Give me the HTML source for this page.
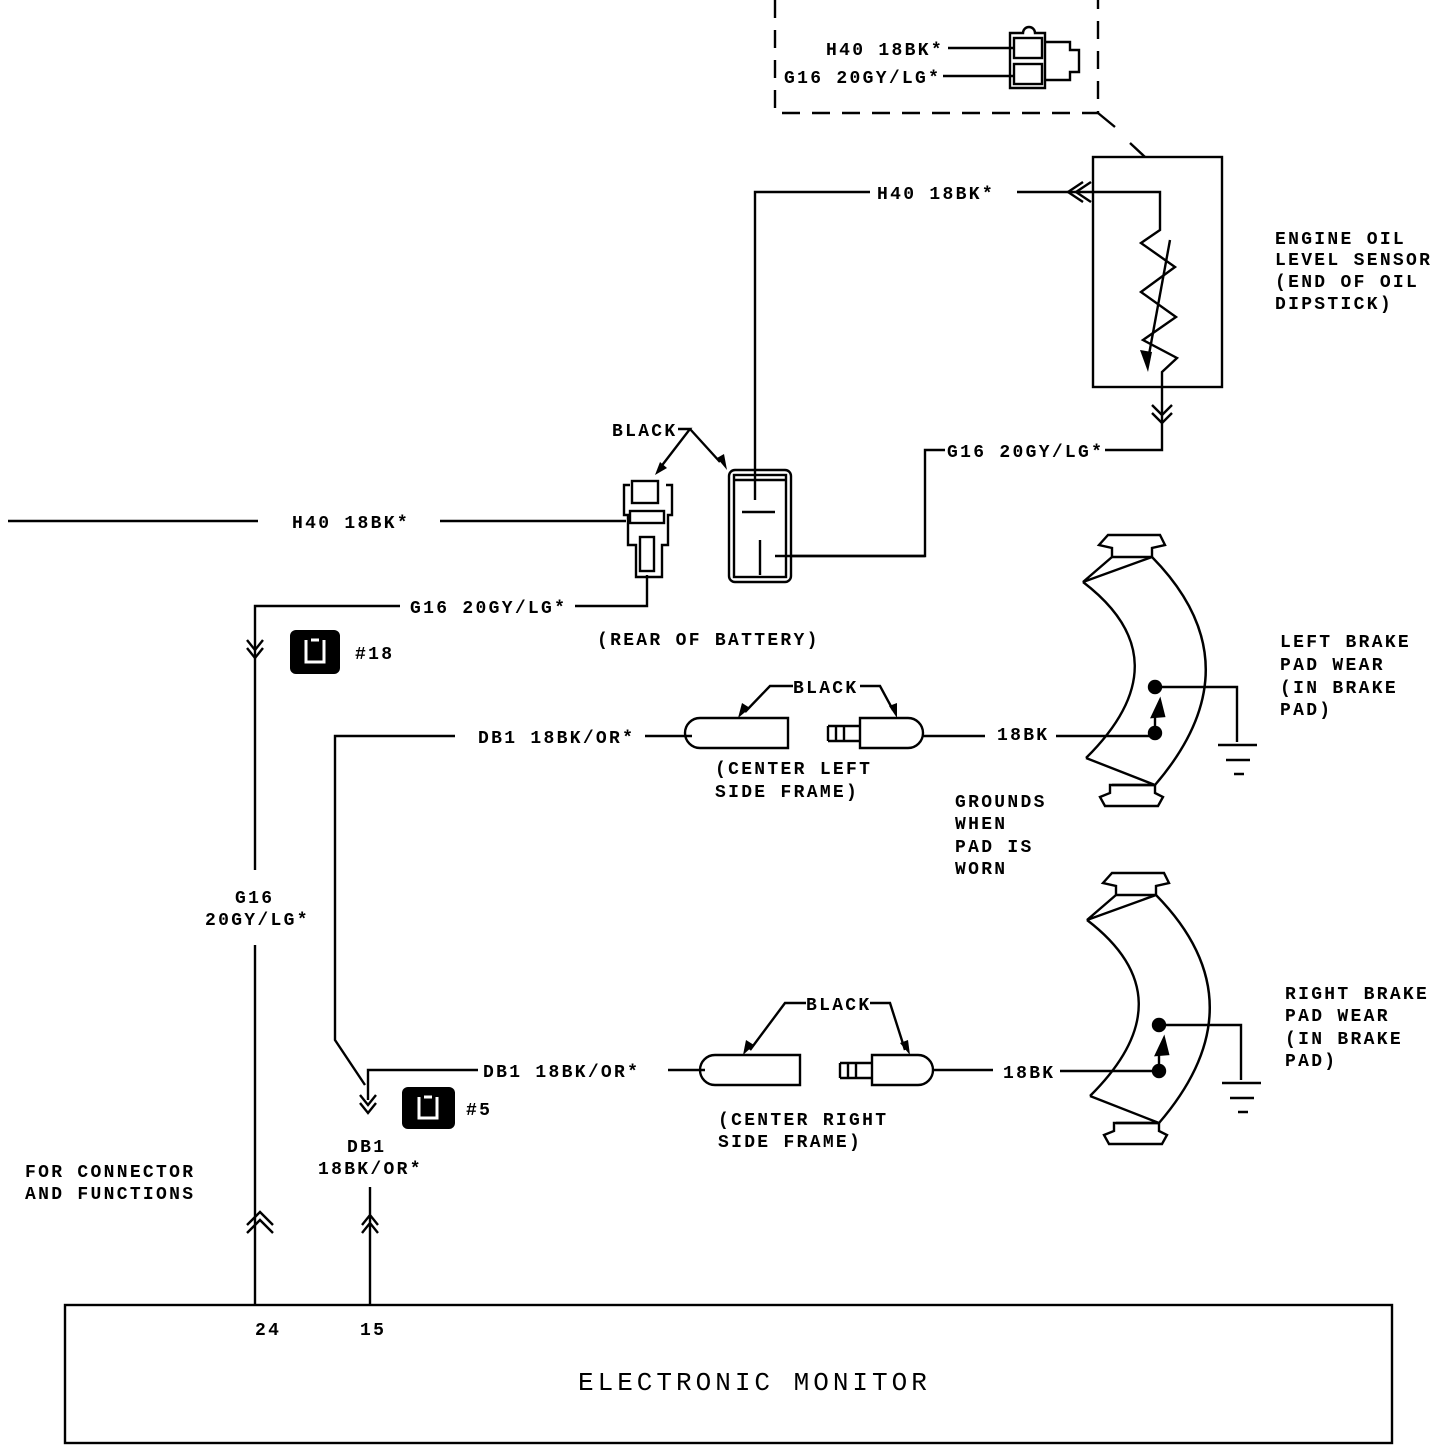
<!DOCTYPE html>
<html><head><style>
body{margin:0;background:#fff}
svg text{font-family:"Liberation Mono",monospace;font-size:18px;font-weight:bold;letter-spacing:2.3px;fill:#000}
</style></head><body>
<svg width="1440" height="1446" viewBox="0 0 1440 1446" xmlns="http://www.w3.org/2000/svg">
<g fill="none" stroke="#000" stroke-width="2.4">
<path d="M775 0 V113 H1098 V0" stroke-dasharray="18,12"/>
<path d="M1098 113 L1115 127 M1130 143 L1145 157"/>
<path d="M1010 33 h13 a6 6 0 0 1 12 0 h10 v55 h-35 z"/>
<rect x="1014" y="38" width="28" height="20"/><rect x="1014" y="64" width="28" height="20"/>
<path d="M1045 42 h25 v8 h9 v22 h-9 v8 h-25"/>
<path d="M948 48 H1015 M943 76 H1015"/>
<rect x="1093" y="157" width="129" height="230"/>
<path d="M755 500 V192 H870 M1017 192 H1160 V230 L1141 243 L1175 267 L1141 292 L1176 317 L1143 340 L1177 358 L1162 372 V450 H1105 M945 450 H925 V556 H775"/>
<path d="M1083 182 L1068 192 L1083 202 M1091 182 L1076 192 L1091 202"/>
<path d="M1170 240 L1148 360"/>
<path d="M1152 405 L1162 415 L1172 405 M1152 413 L1162 423 L1172 413"/>
<path d="M630 485 h-6 v30 h4 v30 h8 v32 h26 v-32 h6 v-30 h4 v-30 h-6"/>
<rect x="632" y="481" width="26" height="22"/>
<rect x="630" y="511" width="34" height="12"/>
<rect x="640" y="537" width="14" height="34"/>
<rect x="729" y="470" width="62" height="112" rx="6"/>
<rect x="734" y="475" width="52" height="102"/>
<path d="M734 480 H786 M742 512 H775 M760 540 V575"/>
<path d="M8 521 H258 M440 521 H626 M790 556 H925"/>
<path d="M647 575 V606 H575 M400 606 H255 V870 M255 945 V1305"/>
<path d="M247 640 L255 650 L263 640 M247 648 L255 658 L263 648"/>
<path d="M247 1225 L260 1212 L273 1225 M247 1233 L260 1220 L273 1233"/>
<path d="M678 429 H690 L660 468 M690 429 L720 462"/>
<path d="M455 736 H335 V1040 L365 1085 M645 736 H692 M923 736 H985 M1056 736 H1155"/>
<path d="M700 718 H788 V748 H700 A15 15 0 0 1 700 718 Z"/>
<path d="M860 718 H908 A15 15 0 0 1 908 748 H860 Z"/>
<path d="M828 726 H860 M828 741 H860 M828 726 V741 M836 726 V741 M844 726 V741"/>
<path d="M793 686 H770 L745 712 M860 686 L880 686 L893 710"/>
<path d="M478 1070 H368 V1100 M668 1070 H705 M933 1070 H993 M1060 1071 H1159"/>
<path d="M360 1095 L368 1105 L376 1095 M360 1103 L368 1113 L376 1103"/>
<path d="M715 1055 H800 V1085 H715 A15 15 0 0 1 715 1055 Z"/>
<path d="M872 1055 H918 A15 15 0 0 1 918 1085 H872 Z"/>
<path d="M840 1063 H872 M840 1078 H872 M840 1063 V1078 M848 1063 V1078 M856 1063 V1078"/>
<path d="M806 1003 H785 L750 1050 M870 1003 L890 1003 L905 1050"/>
<path d="M370 1187 V1305 M362 1225 L370 1215 L378 1225 M362 1233 L370 1223 L378 1233"/>
<rect x="65" y="1305" width="1327" height="138"/>
</g>
<g fill="#000">
<path d="M1148 372 L1140 350 L1152 352 Z"/>
<path d="M655 475 L660 462 L667 468 Z"/>
<path d="M727 470 L717 458 L724 454 Z"/>
<path d="M738 718 L742 703 L750 708 Z"/>
<path d="M897 718 L889 706 L897 703 Z"/>
<path d="M743 1055 L746 1040 L754 1045 Z"/>
<path d="M910 1055 L900 1043 L908 1040 Z"/>
<rect x="290" y="630" width="50" height="44" rx="6"/>
<rect x="402" y="1087" width="53" height="42" rx="6"/>
</g>
<g fill="none" stroke="#fff" stroke-width="3">
<path d="M306 640 V662 H324 V640 M311 640 H319"/>
<path d="M419 1097 V1118 H437 V1097 M424 1097 H432"/>
</g>
<g id="pad" fill="none" stroke="#000" stroke-width="2.4">
<path d="M1108 535 H1160 L1165 545 L1152 548 V557 H1112 V548 L1099 545 Z"/>
<path d="M1112 557 L1083 582 L1152 557"/>
<path d="M1083 582 Q1185 660 1086 758"/>
<path d="M1152 557 Q1258 665 1155 785"/>
<path d="M1086 758 L1155 785 L1112 785"/>
<path d="M1110 785 H1155 V793 L1163 797 L1158 806 H1105 L1100 797 L1110 793 Z"/>
<path d="M1155 687 H1237 V742 M1218 745 H1257 M1226 760 H1250 M1234 774 H1244"/>
<path d="M1155 733 V715"/>
<circle cx="1155" cy="687" r="6" fill="#000"/><circle cx="1155" cy="733" r="6" fill="#000"/>
<path d="M1152 717 L1160 700 L1164 716 Z" fill="#000"/>
</g>
<use href="#pad" transform="translate(4,338)"/>
<text x="826" y="55">H40 18BK*</text>
<text x="784" y="83">G16 20GY/LG*</text>
<text x="877" y="199">H40 18BK*</text>
<text x="1275" y="244">ENGINE OIL</text>
<text x="1275" y="265">LEVEL SENSOR</text>
<text x="1275" y="287">(END OF OIL</text>
<text x="1275" y="309">DIPSTICK)</text>
<text x="947" y="457">G16 20GY/LG*</text>
<text x="612" y="436">BLACK</text>
<text x="292" y="528">H40 18BK*</text>
<text x="410" y="613">G16 20GY/LG*</text>
<text x="597" y="645">(REAR OF BATTERY)</text>
<text x="355" y="659">#18</text>
<text x="793" y="693">BLACK</text>
<text x="478" y="743">DB1 18BK/OR*</text>
<text x="997" y="740">18BK</text>
<text x="715" y="774">(CENTER LEFT</text>
<text x="715" y="797">SIDE FRAME)</text>
<text x="955" y="807">GROUNDS</text>
<text x="955" y="829">WHEN</text>
<text x="955" y="852">PAD IS</text>
<text x="955" y="874">WORN</text>
<text x="1280" y="647">LEFT BRAKE</text>
<text x="1280" y="670">PAD WEAR</text>
<text x="1280" y="693">(IN BRAKE</text>
<text x="1280" y="715">PAD)</text>
<text x="235" y="903">G16</text>
<text x="205" y="925">20GY/LG*</text>
<text x="806" y="1010">BLACK</text>
<text x="1285" y="999">RIGHT BRAKE</text>
<text x="1285" y="1021">PAD WEAR</text>
<text x="1285" y="1044">(IN BRAKE</text>
<text x="1285" y="1066">PAD)</text>
<text x="483" y="1077">DB1 18BK/OR*</text>
<text x="1003" y="1078">18BK</text>
<text x="466" y="1115">#5</text>
<text x="718" y="1125">(CENTER RIGHT</text>
<text x="718" y="1147">SIDE FRAME)</text>
<text x="347" y="1152">DB1</text>
<text x="318" y="1174">18BK/OR*</text>
<text x="25" y="1177">FOR CONNECTOR</text>
<text x="25" y="1199">AND FUNCTIONS</text>
<text x="255" y="1335">24</text>
<text x="360" y="1335">15</text>
<text x="578" y="1390" style="font-size:26px;font-weight:normal;letter-spacing:4px">ELECTRONIC MONITOR</text>
</svg>
</body></html>
